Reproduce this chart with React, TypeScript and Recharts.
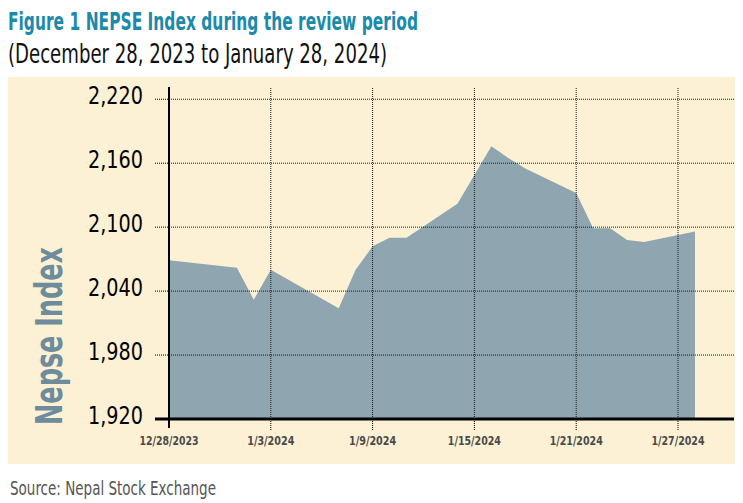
import { Area, AreaChart, ReferenceLine, XAxis, YAxis } from "recharts";

// trading days shown in the figure and the index close
const dates = [
  "2023-12-28", "2024-01-01", "2024-01-02", "2024-01-03", "2024-01-07",
  "2024-01-08", "2024-01-09", "2024-01-10", "2024-01-11", "2024-01-14",
  "2024-01-16", "2024-01-17", "2024-01-18", "2024-01-21", "2024-01-22",
  "2024-01-23", "2024-01-24", "2024-01-25", "2024-01-28",
];
const nepse = [
  2069, 2062, 2032, 2060, 2024,
  2060, 2082, 2090, 2090, 2122,
  2176, 2165, 2155, 2132, 2099,
  2099, 2088, 2086, 2096,
];

const xTicks = [0, 6, 12, 18, 24, 30];
const xTickLabels = ["12/28/2023", "1/3/2024", "1/9/2024", "1/15/2024", "1/21/2024", "1/27/2024"];
const yTicks = [1920, 1980, 2040, 2100, 2160, 2220];

const start = Date.parse(dates[0]);
const data = dates.map((d, i) => ({
  day: (Date.parse(d) - start) / 86400000,
  value: nepse[i],
}));

const FONT = "'Liberation Sans Narrow', 'DejaVu Sans Condensed', 'Roboto', sans-serif";
const BEIGE = "#fcf1d4";
const FILL = "#8fa6b1";
const GRID = "#1a1a1a";

function YTick(props: any) {
  const { x, y, payload } = props;
  const base = payload.value === yTicks[0];
  return (
    <g>
      <line
        x1={x - 14}
        x2={x}
        y1={y}
        y2={y}
        stroke="#000"
        strokeWidth={base ? 3 : 1}
        strokeDasharray={base ? undefined : "1 1"}
      />
      <text
        x={x - 26}
        y={y + 5}
        textAnchor="end"
        fontSize={24}
        fill="#000"
        textLength={55}
        lengthAdjust="spacingAndGlyphs"
        style={{ fontFamily: FONT }}
      >
        {Number(payload.value).toLocaleString("en-US")}
      </text>
    </g>
  );
}

function XTick(props: any) {
  const { x, y, payload, index } = props;
  const first = index === 0;
  const label = xTickLabels[xTicks.indexOf(payload.value)] ?? "";
  return (
    <g>
      <line
        x1={x}
        x2={x}
        y1={y}
        y2={y + (first ? 9 : 11)}
        stroke="#000"
        strokeWidth={first ? 2 : 1}
        strokeDasharray={first ? undefined : "1 1"}
      />
      <text
        x={x}
        y={y + 26}
        textAnchor="middle"
        fontSize={12.5}
        fontWeight="bold"
        fill="#4a4a4a"
        textLength={label.length * 5.9}
        lengthAdjust="spacingAndGlyphs"
        style={{ fontFamily: FONT }}
      >
        {label}
      </text>
    </g>
  );
}

export default function App() {
  return (
    <div style={{ position: "relative", width: 727, height: 495, fontFamily: FONT }}>
      <div
        style={{
          position: "absolute",
          left: 0,
          top: 69,
          width: 727,
          height: 387,
          background: BEIGE,
        }}
      >
        <AreaChart
          width={727}
          height={387}
          data={data}
          margin={{ top: 10, right: 1, left: 0, bottom: 0 }}
        >
          <XAxis
            type="number"
            dataKey="day"
            domain={[0, 33.3]}
            ticks={xTicks}
            height={45}
            tickSize={0}
            tickMargin={0}
            tickLine={false}
            axisLine={{ stroke: "#000", strokeWidth: 3 }}
            tick={<XTick />}
            interval={0}
          />
          <YAxis
            type="number"
            domain={[1920, 2231.5]}
            ticks={yTicks}
            width={161}
            tickSize={0}
            tickMargin={0}
            tickLine={false}
            axisLine={{ stroke: "#000", strokeWidth: 2 }}
            tick={<YTick />}
            interval={0}
          />
          <Area
            type="linear"
            dataKey="value"
            stroke="none"
            fill={FILL}
            fillOpacity={1}
            isAnimationActive={false}
          />
          {yTicks.slice(1).map((v) => (
            <ReferenceLine key={"h" + v} y={v} stroke={GRID} strokeDasharray="1 1" />
          ))}
          {xTicks.slice(1).map((v) => (
            <ReferenceLine key={"v" + v} x={v} stroke={GRID} strokeDasharray="1 1" />
          ))}
        </AreaChart>
      </div>
      <svg
        width={727}
        height={495}
        style={{ position: "absolute", left: 0, top: 0, pointerEvents: "none" }}
      >
        <text
          x={0}
          y={22}
          fontSize={25}
          fontWeight="bold"
          fill="#1b8aab"
          textLength={410}
          lengthAdjust="spacingAndGlyphs"
        >
          Figure 1 NEPSE Index during the review period
        </text>
        <text
          x={0}
          y={55.3}
          fontSize={27}
          fill="#111"
          textLength={379}
          lengthAdjust="spacingAndGlyphs"
        >
          (December 28, 2023 to January 28, 2024)
        </text>
        <text
          x={54}
          y={328}
          fontSize={37}
          fontWeight="bold"
          fill="#6e8c9b"
          textAnchor="middle"
          transform="rotate(-90 54 328)"
          textLength={178}
          lengthAdjust="spacingAndGlyphs"
        >
          Nepse Index
        </text>
        <text
          x={2}
          y={487}
          fontSize={19}
          fill="#555"
          textLength={206}
          lengthAdjust="spacingAndGlyphs"
        >
          Source: Nepal Stock Exchange
        </text>
      </svg>
    </div>
  );
}
